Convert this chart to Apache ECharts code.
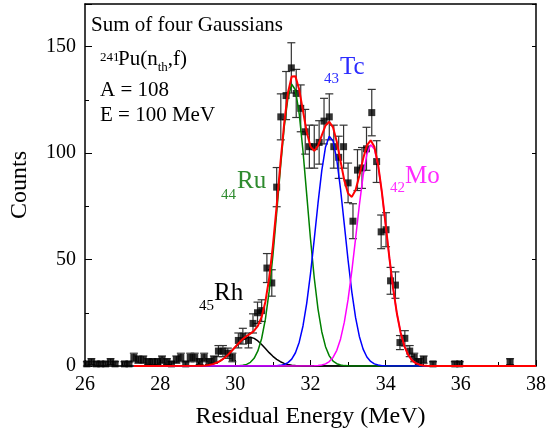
<!DOCTYPE html>
<html>
<head>
<meta charset="utf-8">
<script src="https://cdn.jsdelivr.net/npm/echarts@6/dist/echarts.min.js"></script>
<style>
html, body { margin: 0; padding: 0; background: #fff; }
#main { width: 549px; height: 434px; }
</style>
</head>
<body>
<div id="main"></div>
<script>
// measured spectrum (bin centre in MeV, counts, error bar half length)
const dataE = [26.05, 26.17, 26.3, 26.42, 26.55, 26.68, 26.8, 27.05, 27.17, 27.3, 27.42, 27.55, 27.68, 27.8, 27.93,
  28.05, 28.18, 28.3, 28.43, 28.55, 28.68, 28.8, 28.92, 29.05, 29.17, 29.3, 29.43, 29.55, 29.67, 29.8, 29.92,
  30.08, 30.2, 30.35, 30.47, 30.59, 30.7, 30.84, 30.97, 31.1, 31.21, 31.35, 31.49, 31.62, 31.74, 31.86, 31.97,
  32.1, 32.23, 32.36, 32.5, 32.62, 32.75, 32.88, 33.0, 33.13, 33.25, 33.37, 33.49, 33.63, 33.76, 33.88,
  34.01, 34.13, 34.26, 34.38, 34.51, 34.64, 34.76, 34.88, 35.01, 35.26, 35.84, 35.97, 37.31]
const dataCounts = [1, 2, 1, 1, 1, 2, 1, 1, 1, 4, 3, 3, 2, 2, 2,
  3, 2, 1, 3, 4, 1, 4, 4, 2, 4, 2, 3, 7, 7, 6, 4,
  12, 14, 12, 20, 25, 26, 46, 39, 84, 117, 127, 140, 128, 121, 110, 103,
  103, 105, 115, 117, 103, 98, 103, 86, 68, 92, 93, 102, 119, 96, 63,
  64, 40, 38, 11, 13, 7, 4, 2, 3, 1, 1, 1, 2]
const dataErr = [1, 1.4, 1, 1, 1, 1.4, 1, 1, 1, 2, 1.7, 1.7, 1.4, 1.4, 1.4,
  1.7, 1.4, 1, 1.7, 2, 1, 2, 2, 1.4, 2, 1.4, 1.7, 2.6, 2.6, 2.4, 2,
  3.5, 3.7, 3.5, 4.5, 5, 5.1, 6.8, 6.2, 9.2, 10.8, 11.3, 11.8, 11.3, 11, 10.5, 10.1,
  10.1, 10.2, 10.7, 10.8, 10.1, 9.9, 10.1, 9.3, 8.2, 9.6, 9.6, 10.1, 10.9, 9.8, 7.9,
  8, 6.3, 6.2, 3.3, 3.6, 2.6, 2, 1.4, 1.7, 1, 1, 1, 1.4]

// fitted curves: 27.3, 29.0 ... 35.3 (step 0.1), 38.0
const fitE = [27.3,
  29.0, 29.1, 29.2, 29.3, 29.4, 29.5, 29.6, 29.7, 29.8, 29.9,
  30.0, 30.1, 30.2, 30.3, 30.4, 30.5, 30.6, 30.7, 30.8, 30.9,
  31.0, 31.1, 31.2, 31.3, 31.4, 31.5, 31.6, 31.7, 31.8, 31.9,
  32.0, 32.1, 32.2, 32.3, 32.4, 32.5, 32.6, 32.7, 32.8, 32.9,
  33.0, 33.1, 33.2, 33.3, 33.4, 33.5, 33.6, 33.7, 33.8, 33.9,
  34.0, 34.1, 34.2, 34.3, 34.4, 34.5, 34.6, 34.7, 34.8, 34.9,
  35.0, 35.1, 35.2, 35.3,
  38.0]
const fitRh = [0,
  0.06, 0.13, 0.26, 0.5, 0.89, 1.5, 2.41, 3.64, 5.2, 7.03,
  8.97, 10.81, 12.32, 13.26, 13.49, 12.96, 11.77, 10.1, 8.19, 6.27,
  4.54, 3.11, 2.01, 1.23, 0.71, 0.39, 0.2, 0.1, 0.04, 0,
  0, 0, 0, 0, 0, 0, 0, 0, 0, 0,
  0, 0, 0, 0, 0, 0, 0, 0, 0, 0,
  0, 0, 0, 0, 0, 0, 0, 0, 0, 0,
  0, 0, 0, 0,
  0]
const fitRu = [0,
  0, 0, 0, 0, 0, 0, 0, 0, 0, 0,
  0.04, 0.12, 0.32, 0.77, 1.72, 3.62, 7.06, 12.92, 22.01, 35.01,
  51.95, 71.93, 92.94, 112.06, 126.06, 132.31, 129.6, 118.44, 100.99, 80.36,
  59.66, 41.34, 26.73, 16.11, 9.08, 4.77, 2.33, 1.07, 0.46, 0.18,
  0.07, 0.02, 0, 0, 0, 0, 0, 0, 0, 0,
  0, 0, 0, 0, 0, 0, 0, 0, 0, 0,
  0, 0, 0, 0,
  0]
const fitTc = [0,
  0, 0, 0, 0, 0, 0, 0, 0, 0, 0,
  0, 0, 0, 0, 0, 0, 0, 0, 0, 0,
  0.04, 0.12, 0.3, 0.71, 1.57, 3.23, 6.22, 11.18, 18.8, 29.54,
  43.38, 59.57, 76.45, 91.74, 102.88, 107.86, 105.69, 96.82, 82.91, 66.37,
  49.65, 34.72, 22.7, 13.88, 7.93, 4.23, 2.12, 0.99, 0.43, 0.17,
  0.07, 0.02, 0, 0, 0, 0, 0, 0, 0, 0,
  0, 0, 0, 0,
  0]
const fitMo = [0,
  0, 0, 0, 0, 0, 0, 0, 0, 0, 0,
  0, 0, 0, 0, 0, 0, 0, 0, 0, 0,
  0, 0, 0, 0, 0, 0, 0, 0, 0, 0,
  0, 0.08, 0.19, 0.45, 0.99, 2.06, 4.02, 7.38, 12.72, 20.58,
  31.28, 44.68, 59.92, 75.51, 89.4, 99.42, 103.88, 101.94, 93.98, 81.4,
  66.23, 50.63, 36.35, 24.51, 15.54, 9.25, 5.17, 2.71, 1.34, 0.62,
  0.27, 0.11, 0.04, 0,
  0]
const fitSum = [0,
  0.06, 0.13, 0.26, 0.5, 0.89, 1.5, 2.41, 3.64, 5.2, 7.03,
  9.01, 10.93, 12.64, 14.03, 15.22, 16.58, 18.83, 23.02, 30.2, 41.28,
  56.53, 75.16, 95.25, 114.0, 128.34, 135.93, 136.02, 129.72, 119.83, 109.9,
  103.04, 100.99, 103.37, 108.3, 112.95, 114.69, 112.04, 105.27, 96.09, 87.13,
  81.0, 79.42, 82.62, 89.39, 97.33, 103.65, 106.0, 102.93, 94.41, 81.57,
  66.3, 50.65, 36.35, 24.51, 15.54, 9.25, 5.17, 2.71, 1.34, 0.62,
  0.27, 0.11, 0.04, 0,
  0]

const serif = '"Liberation Serif", "Times New Roman", serif'

function curve (ys) {
  return fitE.map(function (e, i) { return [e, ys[i]] })
}

function renderErr (params, api) {
  const x = api.value(0)
  const top = api.coord([x, api.value(2)])
  const bot = api.coord([x, api.value(1)])
  const hw = 4
  const style = { stroke: '#333', lineWidth: 1.2 }
  return {
    type: 'group',
    children: [
      { type: 'line', shape: { x1: top[0], y1: top[1], x2: bot[0], y2: bot[1] }, style: style },
      { type: 'line', shape: { x1: top[0] - hw, y1: top[1], x2: top[0] + hw, y2: top[1] }, style: style },
      { type: 'line', shape: { x1: bot[0] - hw, y1: bot[1], x2: bot[0] + hw, y2: bot[1] }, style: style }
    ]
  }
}

function txt (s, x, y, size, color) {
  return {
    type: 'text', x: x, y: y, z: 100,
    style: { text: s, font: size + 'px ' + serif, fill: color, align: 'left', verticalAlign: 'middle' }
  }
}

const axisLine = { show: true, onZero: false, lineStyle: { color: '#000', width: 1.5 } }
const xCommon = { type: 'value', min: 26, max: 38, interval: 2, splitLine: { show: false } }
const yCommon = { type: 'value', min: 0, max: 170, splitLine: { show: false } }

const option = {
  animation: false,
  backgroundColor: '#fff',
  grid: { left: 82, right: 9, top: 4, bottom: 68 },
  xAxis: [
    Object.assign({}, xCommon, {
      position: 'bottom',
      axisLine: axisLine,
      axisTick: { inside: true, length: 6, lineStyle: { color: '#000', width: 1 } },
      minorTick: { show: true, splitNumber: 2, length: 4, lineStyle: { color: '#000', width: 1 } },
      axisLabel: { color: '#000', fontFamily: serif, fontSize: 20, margin: 9 },
      name: 'Residual Energy (MeV)',
      nameLocation: 'middle',
      nameGap: 39,
      nameTextStyle: { color: '#000', fontFamily: serif, fontSize: 24 }
    }),
    Object.assign({}, xCommon, {
      position: 'top',
      axisLine: axisLine,
      axisTick: { show: false },
      axisLabel: { show: false }
    })
  ],
  yAxis: [
    Object.assign({}, yCommon, {
      position: 'left',
      interval: 50,
      axisLine: axisLine,
      axisTick: { inside: true, length: 7, lineStyle: { color: '#000', width: 1 } },
      axisLabel: {
        color: '#000', fontFamily: serif, fontSize: 20, margin: 9,
        formatter: function (v) { return v > 160 ? '' : String(v) }
      },
      name: 'Counts',
      nameLocation: 'middle',
      nameGap: 53,
      nameTextStyle: { color: '#000', fontFamily: serif, fontSize: 24 }
    }),
    Object.assign({}, yCommon, {
      position: 'left',
      interval: 25,
      axisLine: { show: false },
      axisTick: { inside: true, length: 4, lineStyle: { color: '#000', width: 1 } },
      axisLabel: { show: false }
    }),
    Object.assign({}, yCommon, {
      position: 'right',
      interval: 50,
      axisLine: axisLine,
      axisTick: { inside: true, length: 4, lineStyle: { color: '#000', width: 1 } },
      axisLabel: { show: false }
    })
  ],
  series: [
    {
      type: 'custom',
      renderItem: renderErr,
      encode: { x: 0, y: [1, 2] },
      data: dataE.map(function (e, i) { return [e, Math.max(0, dataCounts[i] - dataErr[i]), dataCounts[i] + dataErr[i]] }),
      z: 2
    },
    {
      type: 'scatter',
      symbol: 'rect',
      symbolSize: 7,
      itemStyle: { color: '#000' },
      data: dataE.map(function (e, i) { return [e, dataCounts[i]] }),
      z: 3
    },
    { type: 'line', data: curve(fitRh), showSymbol: false, lineStyle: { color: '#000', width: 1.5 }, z: 4 },
    { type: 'line', data: curve(fitRu), showSymbol: false, lineStyle: { color: '#008000', width: 1.5 }, z: 4 },
    { type: 'line', data: curve(fitTc), showSymbol: false, lineStyle: { color: '#0000ff', width: 1.5 }, z: 4 },
    { type: 'line', data: curve(fitMo), showSymbol: false, lineStyle: { color: '#ff00ff', width: 1.5 }, z: 4 },
    { type: 'line', data: curve(fitSum), showSymbol: false, lineStyle: { color: '#ff0000', width: 2 }, z: 5 }
  ],
  graphic: [
    txt('Sum of four Gaussians', 91, 25, 21, '#000'),
    txt('241', 100, 58, 13, '#000'),
    txt('Pu(n', 118, 59, 21, '#000'),
    txt('th', 157.7, 67.6, 13, '#000'),
    txt(',f)', 167.8, 59, 21, '#000'),
    txt('A = 108', 100, 90, 21, '#000'),
    txt('E = 100 MeV', 100, 115, 21, '#000'),
    txt('44', 221, 195, 15, '#2e8b2e'),
    txt('Ru', 237, 181.5, 25, '#2e8b2e'),
    txt('43', 324, 79, 15, '#2b2bff'),
    txt('Tc', 340, 67.5, 25, '#2b2bff'),
    txt('42', 390, 188, 15, '#ff2bff'),
    txt('Mo', 405, 176.5, 25, '#ff2bff'),
    txt('45', 199, 306, 15, '#000'),
    txt('Rh', 214, 293.5, 25, '#000')
  ]
}

const chart = echarts.init(document.getElementById('main'))
chart.setOption(option)
</script>
</body>
</html>
